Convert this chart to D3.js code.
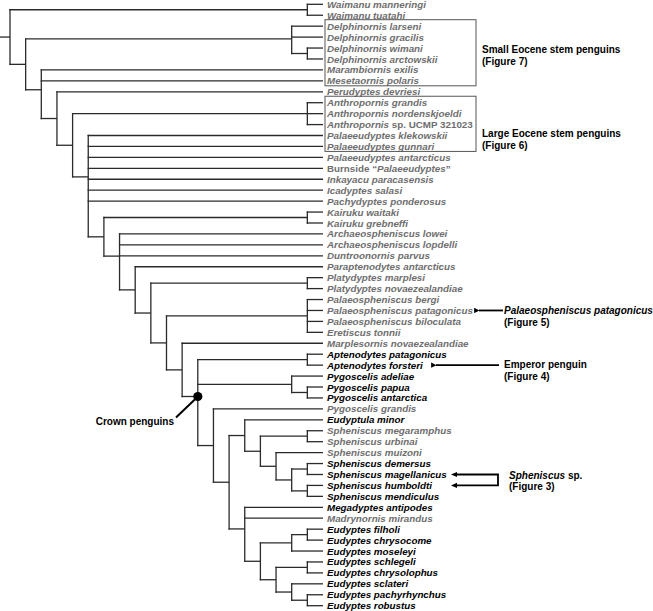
<!DOCTYPE html>
<html>
<head>
<meta charset="utf-8">
<script src="https://cdn.jsdelivr.net/npm/d3@7/dist/d3.min.js"></script>
<style>
  html, body { margin: 0; padding: 0; background: #fff; }
  svg { display: block; }
  text { font-family: "Liberation Sans", Arial, Helvetica, sans-serif; font-weight: bold; }
</style>
</head>
<body>
<svg id="chart" width="653" height="611"></svg>
<script>
// ---- Data ----
// Taxon labels in tip order; "|" separates italic / roman segments (even = italic, odd = roman)
const taxa = [
  "Waimanu manneringi", "Waimanu tuatahi",
  "Delphinornis larseni", "Delphinornis gracilis", "Delphinornis wimani", "Delphinornis arctowskii",
  "Marambiornis exilis", "Mesetaornis polaris", "Perudyptes devriesi",
  "Anthropornis grandis", "Anthropornis nordenskjoeldi", "Anthropornis| sp. UCMP 321023",
  "Palaeeudyptes klekowskii", "Palaeeudyptes gunnari", "Palaeeudyptes antarcticus",
  "|Burnside \u201C|Palaeeudyptes|\u201D", "Inkayacu paracasensis", "Icadyptes salasi", "Pachydyptes ponderosus",
  "Kairuku waitaki", "Kairuku grebneffi", "Archaeospheniscus lowei", "Archaeospheniscus lopdelli",
  "Duntroonornis parvus", "Paraptenodytes antarcticus", "Platydyptes marplesi", "Platydyptes novaezealandiae",
  "Palaeospheniscus bergi", "Palaeospheniscus patagonicus", "Palaeospheniscus biloculata", "Eretiscus tonnii",
  "Marplesornis novaezealandiae", "Aptenodytes patagonicus", "Aptenodytes forsteri",
  "Pygoscelis adeliae", "Pygoscelis papua", "Pygoscelis antarctica", "Pygoscelis grandis",
  "Eudyptula minor", "Spheniscus megaramphus", "Spheniscus urbinai", "Spheniscus muizoni",
  "Spheniscus demersus", "Spheniscus magellanicus", "Spheniscus humboldti", "Spheniscus mendiculus",
  "Megadyptes antipodes", "Madrynornis mirandus", "Eudyptes filholi", "Eudyptes chrysocome",
  "Eudyptes moseleyi", "Eudyptes schlegeli", "Eudyptes chrysolophus", "Eudyptes sclateri",
  "Eudyptes pachyrhynchus", "Eudyptes robustus"
];

// Extant taxa (drawn in black); all others are fossil (grey)
const extant = [32, 33, 34, 35, 36, 38, 42, 43, 44, 45, 46, 48, 49, 50, 51, 52, 53, 54, 55];

// Tree topology as nested arrays of tip indices
const topology = [
  [0, 1],
  [
    [2, 3, [4, 5]],
    [6, 7,
      [8,
        [[9, 10, 11],
          [12, 13, 14, 15, 16, 17, 18,
            [[19, 20],
              [21, 22, 23,
                [24,
                  [[25, 26],
                    [[27, 28, 29, 30],
                      [31,
                        // crown penguins
                        [[32, 33], [34, [35, 36]],
                          [37,
                            [
                              [38, [[39, 40], [41, [[42, 43], [44, 45]]]]],
                              [46, 47, [[[48, 49], 50], [[51, 52], [53, [54, 55]]]]]
                            ]
                          ]
                        ]
                      ]
                    ]
                  ]
                ]
              ]
            ]
          ]
        ]
      ]
    ]
  ]
];

// Boxed groups: [first tip, last tip, label lines]
const boxes = [
  { first: 2, last: 7, lines: ["Small Eocene stem penguins", "(Figure 7)"], at: 4.1 },
  { first: 9, last: 13, lines: ["Large Eocene stem penguins", "(Figure 6)"], at: 11.8 }
];

// Arrow annotations pointing to tips
const arrows = [
  { tips: [28], lines: [["Palaeospheniscus patagonicus|"], ["|(Figure 5)"]] },
  { tips: [33], lines: [["|Emperor penguin"], ["|(Figure 4)"]] },
  { tips: [43, 44], lines: [["Spheniscus| sp."], ["|(Figure 3)"]] }
];

const crownLabel = "Crown penguins";

// ---- Layout ----
const svg = d3.select("#chart");
const root = d3.hierarchy(topology, d => Array.isArray(d) ? d : null);
const leaves = root.leaves();

const y = d3.scaleLinear().domain([0, leaves.length - 1]).range([4.3, 605.7]);
const x = d3.scaleLinear().domain([root.height, 0]).range([10, 323]);

root.eachAfter(n => {
  n.px = x(n.height);
  if (n.children) n.py = d3.mean(n.children, c => c.py);
  else n.py = y(n.data);
});

const lineCol = "#2b2b2b";
const g = svg.append("g");

// root stem
g.append("line").attr("x1", 0).attr("x2", root.px).attr("y1", root.py).attr("y2", root.py)
  .attr("stroke", lineCol).attr("stroke-width", 1.3);

// horizontal branches
g.selectAll("line.h").data(root.descendants().filter(d => d.parent)).join("line")
  .attr("class", "h")
  .attr("x1", d => d.parent.px - 0.65).attr("x2", d => d.px)
  .attr("y1", d => d.py).attr("y2", d => d.py)
  .attr("stroke", lineCol).attr("stroke-width", 1.3);

// vertical connectors
g.selectAll("line.v").data(root.descendants().filter(d => d.children)).join("line")
  .attr("class", "v")
  .attr("x1", d => d.px).attr("x2", d => d.px)
  .attr("y1", d => d.children[0].py - 0.65).attr("y2", d => d.children[d.children.length - 1].py + 0.65)
  .attr("stroke", lineCol).attr("stroke-width", 1.3);

// tip labels
const fs = 9.8;
const labelX = 327;
function addRich(sel, str, italicFirst) {
  const parts = str.split("|");
  parts.forEach((p, i) => {
    if (!p) return;
    const it = italicFirst ? (i % 2 === 0) : (i % 2 === 1);
    sel.append("tspan").attr("font-style", it ? "italic" : "normal").text(p);
  });
}
leaves.forEach(l => {
  const t = svg.append("text")
    .attr("x", labelX).attr("y", l.py)
    .attr("dy", "0.36em")
    .attr("font-size", fs)
    .attr("fill", extant.includes(l.data) ? "#000" : "#6e6e6e");
  addRich(t, taxa[l.data], true);
});

// boxes
boxes.forEach(b => {
  const top = (y(b.first) + y(b.first - 1)) / 2 - 1;
  const bot = (y(b.last) + y(b.last + 1)) / 2 - 0.5;
  svg.append("rect").attr("x", 325).attr("y", top).attr("width", 151).attr("height", bot - top)
    .attr("fill", "none").attr("stroke", "#555").attr("stroke-width", 1);
  b.lines.forEach((ln, i) => {
    svg.append("text").attr("x", 482).attr("y", y(b.at) + i * 12).attr("dy", "0.36em")
      .attr("font-size", 10).attr("fill", "#000").text(ln);
  });
});

// arrowhead marker
svg.append("defs").append("marker")
  .attr("id", "ah").attr("viewBox", "0 0 10 10").attr("refX", 1).attr("refY", 5)
  .attr("markerWidth", 3).attr("markerHeight", 3).attr("orient", "auto-start-reverse")
  .attr("markerUnits", "strokeWidth")
  .append("path").attr("d", "M0,5 L10,0 L10,10 Z").attr("fill", "#000");

// Palaeospheniscus arrow
const a0 = arrows[0];
svg.append("line").attr("x1", 503).attr("x2", 479).attr("y1", y(a0.tips[0])).attr("y2", y(a0.tips[0]))
  .attr("stroke", "#000").attr("stroke-width", 1.8).attr("marker-end", "url(#ah)");
a0.lines.forEach((ln, i) => {
  const t = svg.append("text").attr("x", 504).attr("y", y(a0.tips[0]) + i * 12).attr("dy", "0.36em")
    .attr("font-size", 10).attr("fill", "#000");
  addRich(t, ln[0], true);
});

// Emperor arrow
const a1 = arrows[1];
svg.append("line").attr("x1", 499).attr("x2", 436).attr("y1", y(a1.tips[0])).attr("y2", y(a1.tips[0]))
  .attr("stroke", "#000").attr("stroke-width", 1.8).attr("marker-end", "url(#ah)");
a1.lines.forEach((ln, i) => {
  const t = svg.append("text").attr("x", 504).attr("y", y(a1.tips[0]) - 0.5 + i * 12).attr("dy", "0.36em")
    .attr("font-size", 10).attr("fill", "#000");
  addRich(t, ln[0], true);
});

// Spheniscus bracket arrows
const a2 = arrows[2];
const ya = y(a2.tips[0]), yb = y(a2.tips[1]);
svg.append("path")
  .attr("d", `M455,${ya} L498,${ya} L498,${yb} L455,${yb}`)
  .attr("fill", "none").attr("stroke", "#000").attr("stroke-width", 1.8);
[ya, yb].forEach(yy => {
  svg.append("path").attr("d", `M451,${yy} L457,${yy - 2.6} L457,${yy + 2.6} Z`).attr("fill", "#000");
});
a2.lines.forEach((ln, i) => {
  const t = svg.append("text").attr("x", 509).attr("y", (i === 0 ? ya : yb) + 0.5).attr("dy", "0.36em")
    .attr("font-size", 10).attr("fill", "#000");
  addRich(t, ln[0], true);
});

// Crown node marker
const crown = root.descendants().find(d => d.children && d.leaves()[0].data === 32 && d.leaves().length > 20);
svg.append("circle").attr("cx", crown.px).attr("cy", crown.py).attr("r", 4.6).attr("fill", "#000");
svg.append("line").attr("x1", 176).attr("y1", 417.5).attr("x2", crown.px - 3).attr("y2", crown.py + 3)
  .attr("stroke", "#000").attr("stroke-width", 2);
svg.append("text").attr("x", 174).attr("y", 421.7).attr("dy", "0.36em").attr("text-anchor", "end")
  .attr("font-size", 10).attr("fill", "#000").text(crownLabel);
</script>
</body>
</html>
